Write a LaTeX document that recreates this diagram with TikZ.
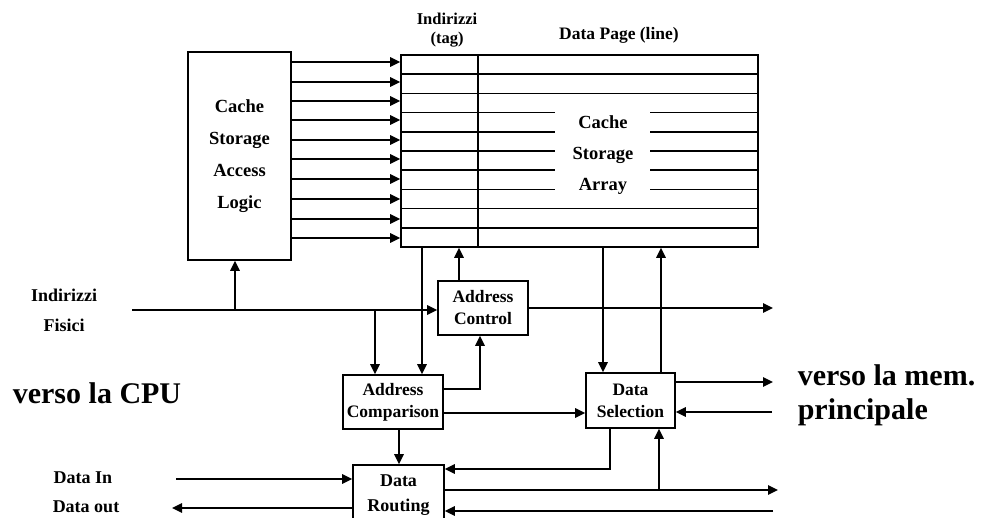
\documentclass[tikz,border=0pt]{standalone}
\usepackage{fontspec}
\setmainfont{Liberation Serif}
\usetikzlibrary{arrows.meta}
\begin{document}
\begin{tikzpicture}[x=1pt,y=-1pt,
  line width=1.6pt,
  arr/.style={-{Triangle[length=10pt,width=9.5pt]}},
  blk/.style={draw, inner sep=0pt, align=center, font=\bfseries\fontsize{17.5}{22}\selectfont},
  lbl/.style={inner sep=0pt, align=center, font=\bfseries\fontsize{18}{30}\selectfont},
  big/.style={inner sep=0pt, font=\bfseries\fontsize{30}{37}\selectfont}]
\useasboundingbox (0,0) rectangle (981,517);

% cache storage array
\node[draw, minimum width=357pt, minimum height=192pt, inner sep=0pt] (arr) at (579.5,151) {};
\draw (478,55) -- (478,247);
\foreach \y in {74.2,93.4,208.6,227.8} \draw (arr.west |- 0,\y) -- (arr.east |- 0,\y);
\foreach \y in {112.6,131.8,151,170.2,189.4} {
  \draw (arr.west |- 0,\y) -- (555,\y);
  \draw (650,\y) -- (arr.east |- 0,\y);
}
\node[inner sep=0pt, align=center, font=\bfseries\fontsize{18.5}{31}\selectfont] (csa) at (603,155) {Cache\\Storage\\Array};
\node[inner sep=0pt, align=center, font=\bfseries\fontsize{16.5}{19}\selectfont] (tag) at (447,30) {Indirizzi\\(tag)};
\node[inner sep=0pt, font=\bfseries\fontsize{17.5}{20}\selectfont] (dp) at (619,35) {Data Page (line)};

% access logic
\node[blk, minimum width=103pt, minimum height=208pt, font=\bfseries\fontsize{18.5}{32}\selectfont] (csal) at (239.5,156) {Cache\\Storage\\Access\\Logic};
\foreach \y in {62,82,101,120,140,159,179,199,219,238}
  \draw[arr] (csal.east |- 0,\y) -- (arr.west |- 0,\y);

% blocks
\node[blk, minimum width=90pt, minimum height=54pt] (ac) at (483,308) {Address\\Control};
\node[blk, minimum width=100pt, minimum height=54pt] (acmp) at (393,402) {Address\\Comparison};
\node[blk, minimum width=89pt, minimum height=55pt] (ds) at (630.5,400.5) {Data\\Selection};
\node[blk, minimum width=91pt, minimum height=60pt, font=\bfseries\fontsize{18}{25}\selectfont] (dr) at (398.5,495) {Data\\Routing};

% connectors
\coordinate (fis) at (132,310);
\draw[arr] (fis) -- (ac.west |- fis);
\coordinate (j1) at (235,310);
\draw[arr] (j1) -- (csal.south -| j1);
\coordinate (j2) at (375,310);
\draw[arr] (j2) -- (acmp.north -| j2);
\draw[arr] (arr.south -| 422,0) -- (acmp.north -| 422,0);
\draw[arr] (ac.north -| 459,0) -- (arr.south -| 459,0);
\coordinate (o1) at (773,308);
\draw[arr] (ac.east |- o1) -- (o1);
\draw[arr] (acmp.east |- 0,389) -| (ac.south -| 480,0);
\draw[arr] (acmp.east |- 0,413) -- (ds.west |- 0,413);
\draw[arr] (acmp.south -| 399,0) -- (dr.north -| 399,0);
\draw[arr] (arr.south -| 603,0) -- (ds.north -| 603,0);
\draw[arr] (ds.north -| 661,0) -- (arr.south -| 661,0);
\coordinate (o2) at (773,382);
\draw[arr] (ds.east |- o2) -- (o2);
\coordinate (i2) at (772,412);
\draw[arr] (i2) -- (ds.east |- i2);
\draw[arr] (ds.south -| 610,0) |- (dr.east |- 0,469);
\coordinate (o3) at (778,490);
\draw[arr] (dr.east |- o3) -- (o3);
\coordinate (j3) at (659,490);
\draw[arr] (j3) -- (ds.south -| j3);
\coordinate (i3) at (773,511);
\draw[arr] (i3) -- (dr.east |- i3);
\coordinate (din) at (176,479);
\draw[arr] (din) -- (dr.west |- din);
\coordinate (dout) at (172,508);
\draw[arr] (dr.west |- dout) -- (dout);

% labels
\node[lbl] (indf) at (64,310) {Indirizzi\\Fisici};
\node[big] (cpu) at (97,393) {verso la CPU};
\node[lbl] (dinl) at (83,478) {Data In};
\node[lbl] (doutl) at (86,507) {Data out};
\node[big, anchor=west] (mem1) at (797,375) {verso la mem.};
\node[big, anchor=west] (mem2) at (797,412) {principale};
\end{tikzpicture}
\end{document}
